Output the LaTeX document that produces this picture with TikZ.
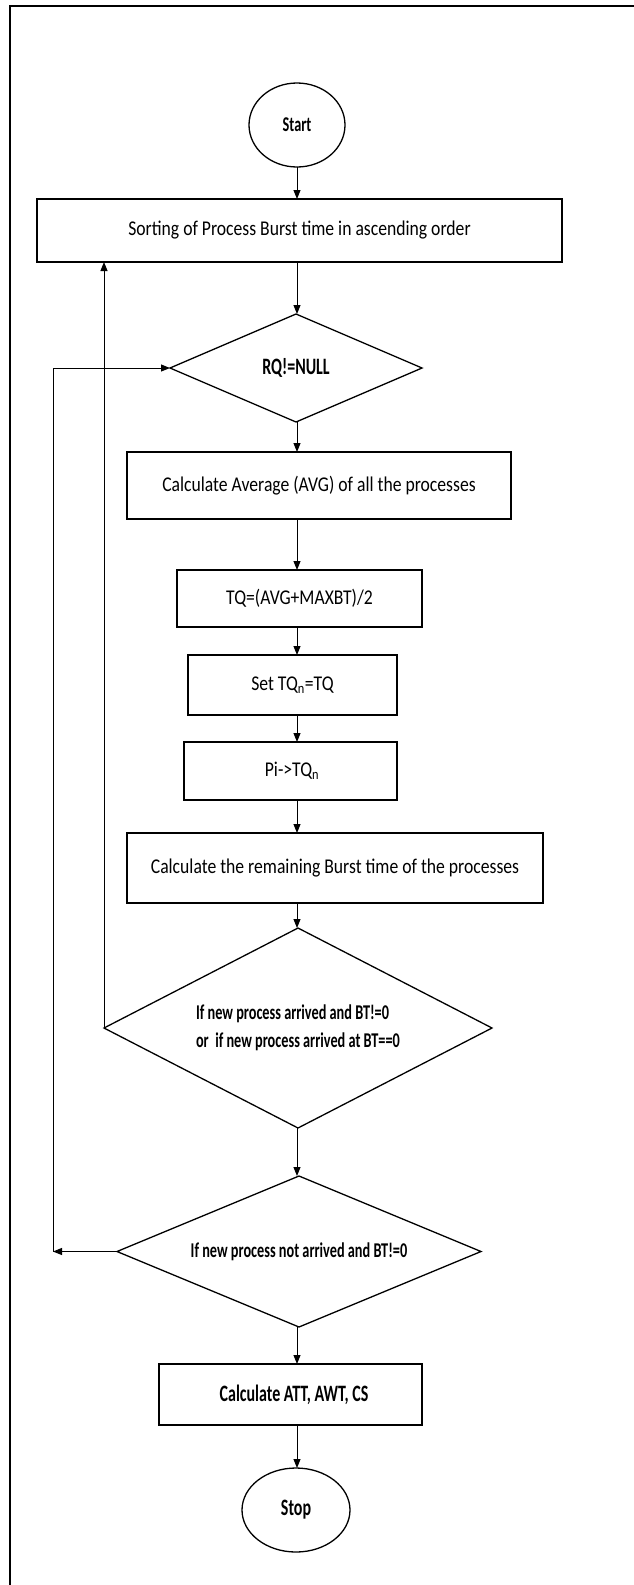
\documentclass[tikz,border=0pt]{standalone}
\usepackage{fontspec}
\setmainfont{Carlito}
\newfontfamily\regf{Carlito}[FakeStretch=0.84]
\newfontfamily\bldf{Carlito}[FakeStretch=0.68]
\newcommand\regtxt{\regf\fontsize{21}{28}\selectfont}
\newcommand\bldtxt{\bldf\bfseries\fontsize{21}{28}\selectfont}
\newcommand\bldbig{\bldf\bfseries\fontsize{23.5}{28}\selectfont}
\usetikzlibrary{shapes.geometric,arrows.meta}
\begin{document}
\begin{tikzpicture}[x=1pt,y=-1pt,
  every node/.style={inner sep=0pt, outer sep=0pt},
  proc/.style={draw, line width=1.3pt, rectangle, font=\regtxt},
  dec/.style={draw, line width=1.3pt, diamond, font=\bldtxt},
  term/.style={draw, line width=1.3pt, ellipse, font=\bldtxt},
  arr/.style={line width=1pt, -{Triangle[length=9pt,width=7pt]}},
  frame/.style={line width=2.6pt}
]
\useasboundingbox (0,0) rectangle (634,1585);
\draw[frame] (634,6) -- (10,6) -- (10,1585);

\coordinate (sp) at (297,0);
\coordinate (la) at (53,0);

\node[term, minimum width=96pt, minimum height=84pt] (start) at (297,125) {Start};
\node[proc, minimum width=525pt, minimum height=63pt] (sort) at (299.5,230.5) {Sorting of Process Burst time in ascending order\hspace{18pt}};
\node[dec, font=\bldbig, shape aspect=2.33, minimum width=252pt, minimum height=108pt] (rq) at (296,368) {RQ!=NULL};
\node[proc, minimum width=384pt, minimum height=67pt] (avg) at (319,485.5) {Calculate Average (AVG) of all the processes\hspace{10pt}};
\node[proc, minimum width=245pt, minimum height=57pt] (tq) at (299.5,598.5) {TQ=(AVG+MAXBT)/2\hspace{53pt}};
\node[proc, minimum width=209pt, minimum height=60pt] (settq) at (292.5,685) {Set TQ\textsubscript{n}=TQ};
\node[proc, minimum width=213pt, minimum height=58pt] (pi) at (290.5,771) {\hspace{3pt}Pi->TQ\textsubscript{n}};
\node[proc, minimum width=416pt, minimum height=70pt] (rem) at (335,868) {Calculate the remaining Burst time of the processes\hspace{16pt}};
\node[dec, shape aspect=1.94, minimum width=388pt, minimum height=200pt, align=left] (d1) at (298,1028) {If new process arrived and BT!=0\\or\ \ if new process arrived at BT==0};
\node[dec, shape aspect=2.41, minimum width=364pt, minimum height=151pt] (d2) at (299,1251.5) {If new process not arrived and BT!=0\hspace{12pt}};
\node[proc, font=\bldbig, minimum width=263pt, minimum height=61pt] (att) at (290.5,1394.5) {\hspace{7pt}Calculate ATT, AWT, CS};
\node[term, font=\bldbig, minimum width=108pt, minimum height=84pt] (stop) at (296,1510) {Stop};

\draw[arr] (start.south -| sp) -- (sort.north -| sp);
\draw[arr] (sort.south -| sp) -- (rq.north -| sp);
\draw[arr] (rq.south -| sp) -- (avg.north -| sp);
\draw[arr] (avg.south -| sp) -- (tq.north -| sp);
\draw[arr] (tq.south -| sp) -- (settq.north -| sp);
\draw[arr] (settq.south -| sp) -- (pi.north -| sp);
\draw[arr] (pi.south -| sp) -- (rem.north -| sp);
\draw[arr] (rem.south -| sp) -- (d1.north -| sp);
\draw[arr] (d1.south -| sp) -- (d2.north -| sp);
\draw[arr] (d2.south -| sp) -- (att.north -| sp);
\draw[arr] (att.south -| sp) -- (stop.north -| sp);

\draw[arr] (d2.west) -- (d2.west -| la);
\draw[arr] (d2.west -| la) |- (rq.west);
\draw[arr] (d1.west) -- (d1.west |- sort.south);
\end{tikzpicture}
\end{document}
